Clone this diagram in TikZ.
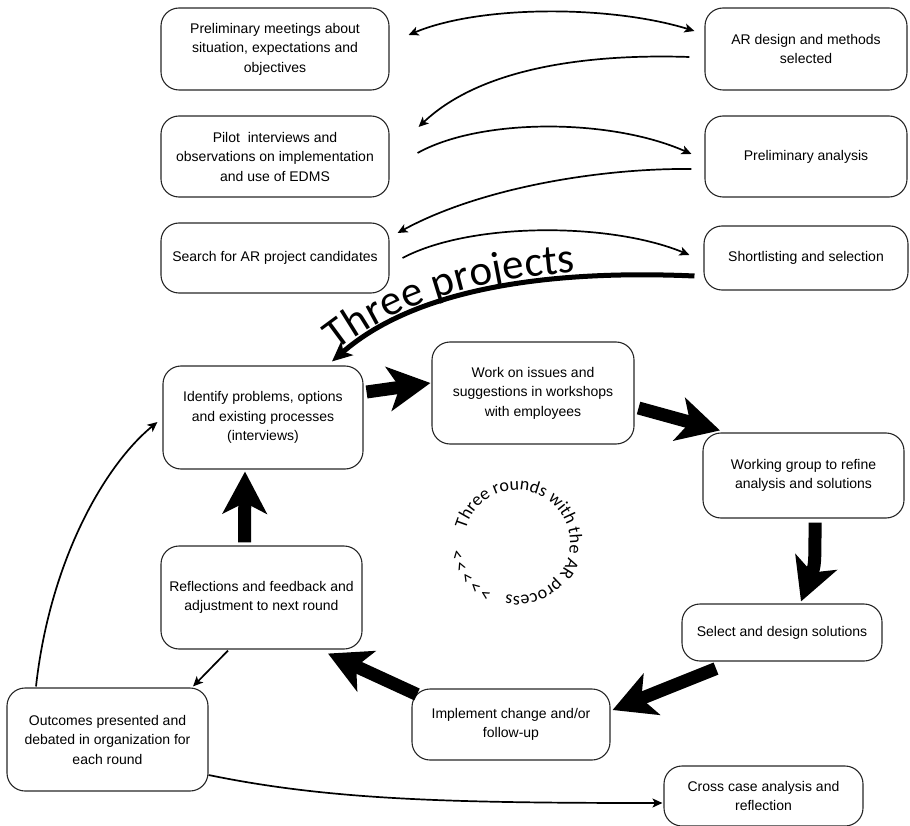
\documentclass[tikz,border=0pt]{standalone}
\usepackage{fontspec}
\setmainfont{Liberation Sans}
\newfontfamily\carlito{Carlito}
\usetikzlibrary{arrows.meta,calc,decorations.text}
\begin{document}
\begin{tikzpicture}[x=1pt,y=-1pt,
  box/.style={draw=black!85, line width=1.1pt, rounded corners=18pt, align=center, inner sep=0pt, font=\fontsize{14}{19.5}\selectfont},
  thinarr/.style={line width=1.7pt, -{Stealth[length=10pt,width=9pt,inset=2.5pt]}},
  thinboth/.style={line width=1.7pt, {Stealth[length=10pt,width=9pt,inset=2.5pt]}-{Stealth[length=10pt,width=9pt,inset=2.5pt]}},
  thickarr/.style={line width=13pt, -{Stealth[length=42pt,width=44pt,inset=11pt]}},
  projarr/.style={line width=5pt, -{Stealth[length=20pt,width=18pt,inset=5pt]}},
  chev/.style={anchor=center, inner sep=0pt, font=\carlito\fontsize{19}{19}\selectfont},
  ]
\useasboundingbox (0,0) rectangle (910,826);

% boxes
\node[box, minimum width=228pt, minimum height=82pt] (b1) at (275,49) {Preliminary meetings about\\situation, expectations and\\objectives};
\node[box, minimum width=202pt, minimum height=82pt] (b2) at (806,49) {AR design and methods\\selected};
\node[box, minimum width=228pt, minimum height=81pt] (b3) at (275,156.5) {Pilot \ interviews and\\observations on implementation\\and use of EDMS};
\node[box, minimum width=202pt, minimum height=81pt] (b4) at (806,156.5) {Preliminary analysis};
\node[box, minimum width=228pt, minimum height=70pt] (b5) at (275,258) {Search for AR project candidates};
\node[box, minimum width=204pt, minimum height=64pt] (b6) at (806,258) {Shortlisting and selection};
\node[box, minimum width=200pt, minimum height=103pt] (b7) at (263,417.5) {Identify problems, options\\and existing processes\\(interviews)};
\node[box, minimum width=202pt, minimum height=102pt] (b8) at (533,393) {Work on issues and\\suggestions in workshops\\with employees};
\node[box, minimum width=201pt, minimum height=85pt] (b9) at (803.5,475.5) {Working group to refine\\analysis and solutions};
\node[box, minimum width=200pt, minimum height=57pt] (b10) at (782,632.5) {Select and design solutions};
\node[box, minimum width=198pt, minimum height=71pt] (b11) at (511,724.5) {Implement change and/or\\follow-up};
\node[box, minimum width=201pt, minimum height=103pt] (b12) at (261.5,597.5) {Reflections and feedback and\\adjustment to next round};
\node[box, minimum width=201pt, minimum height=103pt] (b13) at (107.5,739.5) {Outcomes presented and\\debated in organization for\\each round};
\node[box, minimum width=199pt, minimum height=60pt] (b14) at (763.5,796) {Cross case analysis and\\reflection};

% top thin connectors
\draw[thinboth] ($(b1.east)+(19,-14)$) .. controls (480,5) and (610,5) .. ($(b2.west)+(-10,-18)$);
\draw[thinarr] ($(b2.west)+(-15,8)$) .. controls (600,54) and (485,64) .. ($(b3.east)+(29,-29.5)$);
\draw[thinarr] ($(b3.east)+(28,-3.5)$) .. controls (480,118) and (610,118) .. ($(b4.west)+(-13,-2.5)$);
\draw[thinarr] ($(b4.west)+(-13,12.5)$) .. controls (600,168) and (480,188) .. ($(b5.east)+(8,-25)$);
\draw[thinarr] ($(b5.east)+(13,0)$) .. controls (470,222) and (610,222) .. ($(b6.west)+(-14,-3)$);

% three projects arrow
\coordinate (ps) at ($(b6.west)+(-9,18)$);
\coordinate (pe) at ($(b7.north)+(69,-4)$);
\draw[projarr] (ps) .. controls (560,270) and (420,285) .. (pe);
\path[decorate, decoration={text along path, raise=5pt, text align={left indent=10pt},
  text={|\carlito\fontsize{43}{43}\selectfont|Three projects}}]
  (pe) .. controls (420,285) and (560,270) .. (ps);

% cycle thick arrows
\draw[thickarr] ($(b7.east)+(3,-25.5)$) -- ($(b8.west)+(-1,-10)$);
\draw[thickarr] ($(b8.east)+(4,15)$) -- ($(b9.north)+(-83.5,-2)$);
\draw[thickarr] ($(b9.south)+(11.5,4)$) .. controls (815,565) .. ($(b10.north)+(19,-2)$);
\draw[thickarr] ($(b10.south)+(-66,7)$) -- ($(b11.east)+(2,-14.5)$);
\draw[thickarr] ($(b11.north)+(-94,6)$) -- ($(b12.south)+(66.5,4)$);
\draw[thickarr] ($(b12.north)+(-17,-3)$) -- ($(b7.south)+(-18,2)$);

% thin lower connectors
\draw[thinarr] ($(b12.south)+(-33.5,1)$) -- ($(b13.north)+(85.5,-1)$);
\draw[thinarr] ($(b13.north)+(-71.5,-1)$) .. controls (50,560) and (105,465) .. ($(b7.west)+(-5,4.5)$);
\draw[thinarr] ($(b13.east)+(0,35.5)$) .. controls (330,800) and (450,803) .. ($(b14.west)+(-1,7)$);

% circular text
\coordinate (cc) at (517,543);
\path[decorate, decoration={text along path,
  text={|\carlito\fontsize{18}{18}\selectfont|Three rounds with the AR process}}]
  ($(cc)+(-165:53)$) arc[start angle=-165, end angle=118, radius=53];
\foreach \a [count=\i] in {121,133,145,157,169}
  \node[chev, rotate={90-\a}] (ch\i) at ($(cc)+(\a:62)$) {<};
\end{tikzpicture}
\end{document}
